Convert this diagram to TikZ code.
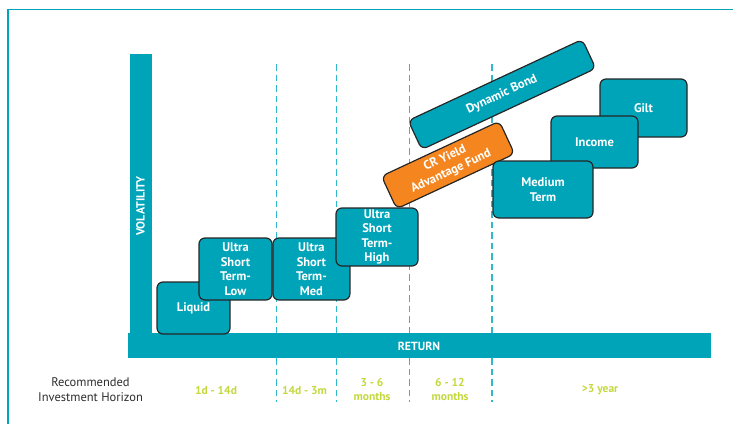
\documentclass[tikz,border=0pt]{standalone}
\usepackage{fontspec}
\setmainfont{PT Sans}
\usetikzlibrary{positioning}
\definecolor{fundteal}{RGB}{0,164,185}
\definecolor{gridteal}{RGB}{48,184,204}
\definecolor{fundorange}{RGB}{245,134,31}
\definecolor{horizon}{RGB}{196,216,62}
\definecolor{labelgray}{RGB}{45,45,45}

\begin{document}
\begin{tikzpicture}[x=1pt, y=-1pt,
  fund/.style={draw=black!85, line width=1.2pt, rounded corners=6pt, fill=fundteal, text=white, align=center, inner sep=0pt, font=\fontsize{12.5}{14.5}\selectfont\bfseries},
  axislbl/.style={text=white, font=\fontsize{11.8}{13}\selectfont\bfseries},
  horizonlbl/.style={text=horizon, align=center, font=\fontsize{11.5}{14.7}\selectfont\bfseries},
  gridline/.style={gridteal, line width=1.4pt, dash pattern=on 6.5pt off 4pt}]
\useasboundingbox (0,0) rectangle (733,424);
\draw[fundteal, line width=1.2pt] (8,424) -- (8,9.5) -- (733,9.5);
\foreach \x in {276.7,336.3,409.3,492} \draw[gridline] (\x,64) -- (\x,402);
\fill[fundteal] (129.5,54) rectangle (151.5,358);
\fill[fundteal] (128,333) rectangle (711,358);
\node[axislbl, rotate=90] (volatility) at (140.5,206) {VOLATILITY};
\node[axislbl] (return) at (419,346) {RETURN};
\node[fund, rotate=25, minimum width=192, minimum height=32] (dynbond) at (502,94.5) {Dynamic Bond};
\node[fund, fill=fundorange, rotate=25, minimum width=130, minimum height=36] (cryield) at (448,165) {CR Yield\\Advantage Fund};
\node[fund, minimum width=73, minimum height=52] (liquid) at (193.5,308) {Liquid};
\node[fund, minimum width=73, minimum height=62] (ustlow) at (235.5,269) {Ultra\\Short\\Term-\\Low};
\node[fund, minimum width=77, minimum height=62] (ustmed) at (311.4,269) {Ultra\\Short\\Term-\\Med};
\node[fund, minimum width=82, minimum height=58] (usthigh) at (377,237) {Ultra\\Short\\Term-\\High};
\node[fund, minimum width=87, minimum height=58] (gilt) at (643.5,108) {Gilt};
\node[fund, minimum width=87, minimum height=52] (income) at (594.5,142) {Income};
\node[fund, minimum width=100, minimum height=57] (medium) at (543,189.5) {Medium\\Term};
\node[text=labelgray, align=center, font=\fontsize{12.5}{14.7}\selectfont] (horizontitle) at (90.5,389.5) {Recommended\\Investment Horizon};
\node[horizonlbl] (h1) at (216,390) {1d - 14d};
\node[horizonlbl] (h2) at (304.5,390) {14d - 3m};
\node[horizonlbl] (h3) at (372,389.5) {3 - 6\\months};
\node[horizonlbl] (h4) at (450,389.5) {6 - 12\\months};
\node[horizonlbl] (h5) at (600,390) {>3 year};
\end{tikzpicture}
\end{document}
